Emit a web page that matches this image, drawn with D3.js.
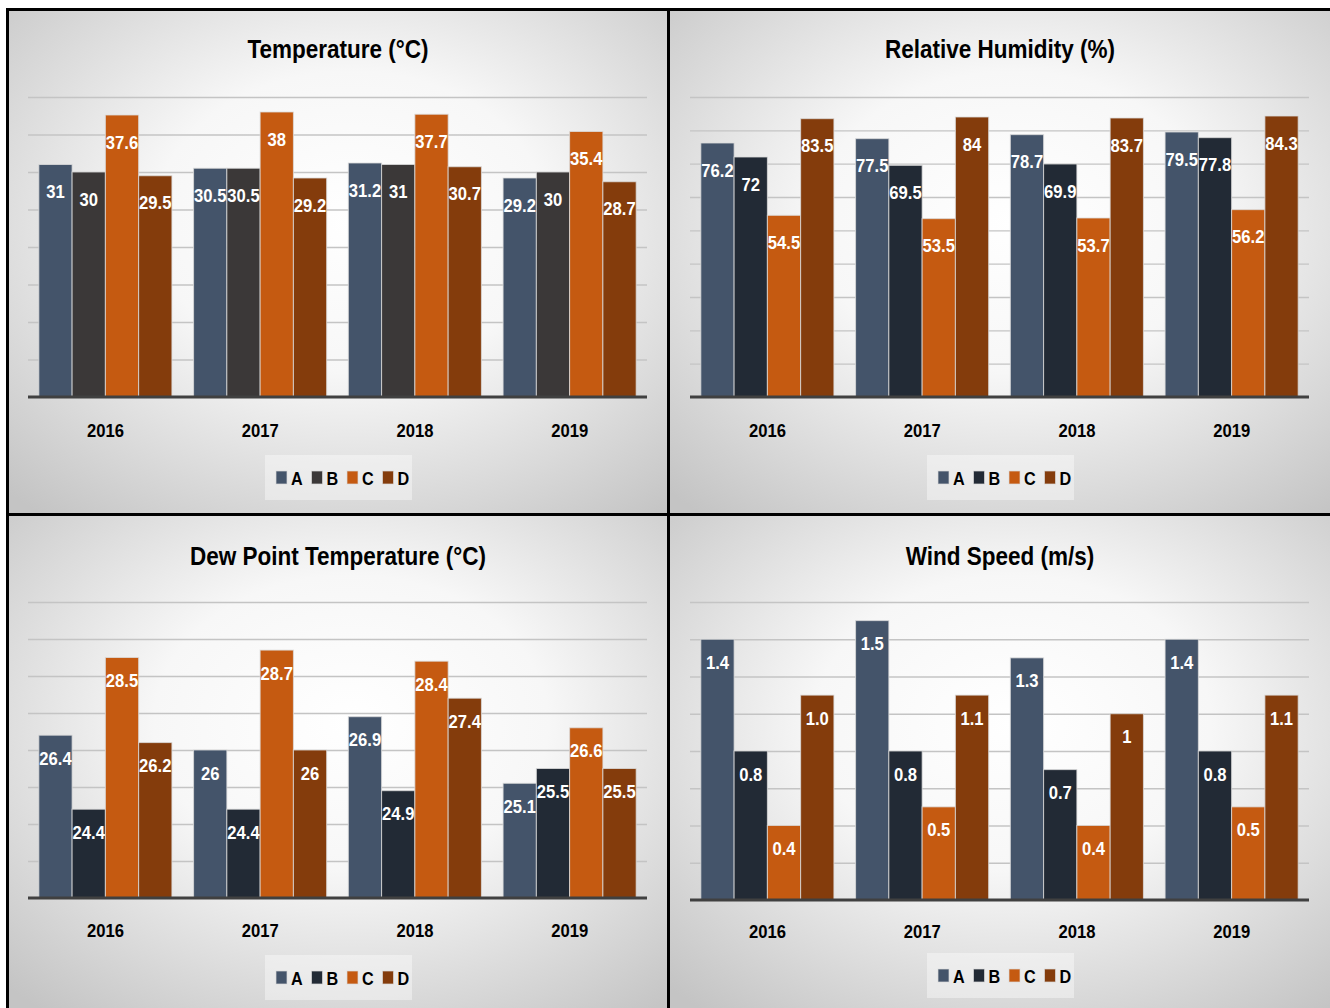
<!DOCTYPE html>
<html>
<head>
<meta charset="utf-8">
<script src="https://cdn.jsdelivr.net/npm/d3@7/dist/d3.min.js"></script>
<style>
  html, body { margin: 0; padding: 0; background: #ffffff; }
  svg { display: block; }
  text { font-family: "Liberation Sans", Arial, sans-serif; font-weight: bold; }
</style>
</head>
<body>
<svg id="chart" width="1330" height="1008"></svg>
<script>
// ---------- data ----------
const years = ["2016", "2017", "2018", "2019"];
const seriesNames = ["A", "B", "C", "D"];

const tempA = [31, 30.5, 31.2, 29.2];
const tempB = [30, 30.5, 31, 30];
const tempC = [37.6, 38, 37.7, 35.4];
const tempD = [29.5, 29.2, 30.7, 28.7];

const humA = [76.2, 77.5, 78.7, 79.5];
const humB = [72, 69.5, 69.9, 77.8];
const humC = [54.5, 53.5, 53.7, 56.2];
const humD = [83.5, 84, 83.7, 84.3];

const dewA = [26.4, 26, 26.9, 25.1];
const dewB = [24.4, 24.4, 24.9, 25.5];
const dewC = [28.5, 28.7, 28.4, 26.6];
const dewD = [26.2, 26, 27.4, 25.5];

const windA = [1.4, 1.5, 1.3, 1.4];
const windB = [0.8, 0.8, 0.7, 0.8];
const windC = [0.4, 0.5, 0.4, 0.5];
const windD = [1.1, 1.1, 1.0, 1.1];
const windLabelsA = ["1.4", "1.5", "1.3", "1.4"];
const windLabelsB = ["0.8", "0.8", "0.7", "0.8"];
const windLabelsC = ["0.4", "0.5", "0.4", "0.5"];
const windLabelsD = ["1.0", "1.1", "1", "1.1"];

const tempGrid = [0, 5, 10, 15, 20, 25, 30, 35, 40];
const humGrid = [0, 10, 20, 30, 40, 50, 60, 70, 80, 90];
const dewGrid = [22, 23, 24, 25, 26, 27, 28, 29, 30];
const windGrid = [0, 0.2, 0.4, 0.6, 0.8, 1.0, 1.2, 1.4, 1.6];

// ---------- styles ----------
const colA = "#44546a", colBgray = "#3b3838", colBnavy = "#222a35", colC = "#c55a11", colD = "#843c0c";
const SX = 0.9; // horizontal squeeze to mimic a condensed face

const svg = d3.select("#chart");
const defs = svg.append("defs");
const grad = defs.append("radialGradient").attr("id", "bg")
  .attr("cx", "52%").attr("cy", "42%").attr("r", "75%");
grad.append("stop").attr("offset", "0%").attr("stop-color", "#ffffff");
grad.append("stop").attr("offset", "40%").attr("stop-color", "#f7f7f7");
grad.append("stop").attr("offset", "100%").attr("stop-color", "#c4c4c4");

function ctext(parent, x, y, str, size, fill, anchor) {
  return parent.append("text")
    .attr("transform", `translate(${x},${y}) scale(${SX},1)`)
    .attr("text-anchor", anchor || "middle")
    .attr("font-size", size).attr("fill", fill).text(str);
}

// frame
svg.append("rect").attr("x", 6).attr("y", 8).attr("width", 1324).attr("height", 1000).attr("fill", "#000");

const panels = [
  { title: "Temperature (°C)", x: 9, y: 11, w: 658, h: 502,
    px0: 28, px1: 647, ptop: 97, pbase: 397, domain: [0, 40], grid: tempGrid,
    data: [tempA, tempB, tempC, tempD], labels: null, colors: [colA, colBgray, colC, colD], lblOff: 27,
    titleY: 58, catY: 437, legY: 478 },
  { title: "Relative Humidity (%)", x: 670, y: 11, w: 660, h: 502,
    px0: 690, px1: 1309, ptop: 97, pbase: 397, domain: [0, 90], grid: humGrid,
    data: [humA, humB, humC, humD], labels: null, colors: [colA, colBnavy, colC, colD], lblOff: 27,
    titleY: 58, catY: 437, legY: 478 },
  { title: "Dew Point Temperature (°C)", x: 9, y: 516, w: 658, h: 492,
    px0: 28, px1: 647, ptop: 602, pbase: 898, domain: [22, 30], grid: dewGrid,
    data: [dewA, dewB, dewC, dewD], labels: null, colors: [colA, colBnavy, colC, colD], lblOff: 23,
    titleY: 565, catY: 937, legY: 978 },
  { title: "Wind Speed (m/s)", x: 670, y: 516, w: 660, h: 492,
    px0: 690, px1: 1309, ptop: 602, pbase: 900, domain: [0, 1.6], grid: windGrid,
    data: [windA, windB, windC, windD], labels: [windLabelsA, windLabelsB, windLabelsC, windLabelsD],
    colors: [colA, colBnavy, colC, colD], lblOff: 23,
    titleY: 565, catY: 938, legY: 976 }
];

panels.forEach(p => {
  const g = svg.append("g");
  g.append("rect").attr("x", p.x).attr("y", p.y).attr("width", p.w).attr("height", p.h).attr("fill", "url(#bg)");

  const cx = p.x + p.w / 2;
  ctext(g, cx, p.titleY, p.title, 25, "#000");

  const y = d3.scaleLinear().domain(p.domain).range([p.pbase, p.ptop]);
  const x0 = d3.scaleBand().domain(years).range([p.px0, p.px1]).paddingInner(0.14).paddingOuter(0.07);
  const x1 = d3.scaleBand().domain(seriesNames).range([0, x0.bandwidth()]).padding(0);

  // gridlines
  const gridAxis = d3.axisLeft(y).tickValues(p.grid.slice(1)).tickSize(-(p.px1 - p.px0)).tickFormat("");
  const gg = g.append("g").attr("transform", `translate(${p.px0},0)`).call(gridAxis);
  gg.select(".domain").remove();
  gg.selectAll(".tick line").attr("stroke", "#c4c4c4").attr("stroke-width", 1.3);

  // bars
  seriesNames.forEach((s, si) => {
    const vals = p.data[si];
    const sg = g.append("g");
    sg.selectAll("rect").data(years).join("rect")
      .attr("x", d => x0(d) + x1(s))
      .attr("y", (d, i) => y(vals[i]))
      .attr("width", x1.bandwidth())
      .attr("height", (d, i) => p.pbase - y(vals[i]))
      .attr("fill", p.colors[si])
      .attr("stroke", "#dcdcdc").attr("stroke-opacity", 0.8).attr("stroke-width", 1);
    years.forEach((yr, i) => {
      ctext(sg, x0(yr) + x1(s) + x1.bandwidth() / 2, y(vals[i]) + p.lblOff + 6.5,
        p.labels ? p.labels[si][i] : String(vals[i]), 18.5, "#fff");
    });
  });

  // baseline
  g.append("line").attr("x1", p.px0).attr("x2", p.px1).attr("y1", p.pbase).attr("y2", p.pbase)
    .attr("stroke", "#404040").attr("stroke-width", 3);

  // category axis
  const xAxis = d3.axisBottom(x0).tickSize(0).tickPadding(0);
  const xg = g.append("g").attr("transform", `translate(0,${p.catY})`).call(xAxis);
  xg.select(".domain").remove();
  xg.selectAll("text").attr("dy", 0).attr("y", 0).attr("font-size", 18.5).attr("fill", "#000")
    .attr("font-family", null).attr("transform", `scale(${SX},1)`)
    .attr("x", 0);

  // legend
  const lg = g.append("g");
  lg.append("rect").attr("x", cx - 73).attr("y", p.legY - 23).attr("width", 147).attr("height", 45)
    .attr("fill", "#ffffff").attr("fill-opacity", 0.4);
  seriesNames.forEach((s, si) => {
    const lx = cx - 62 + si * 35.5;
    lg.append("rect").attr("x", lx).attr("y", p.legY - 7).attr("width", 11).attr("height", 13)
      .attr("fill", p.colors[si]).attr("stroke", "#dcdcdc").attr("stroke-opacity", 0.7).attr("stroke-width", 1);
    ctext(lg, lx + 15, p.legY + 7, s, 18, "#000", "start");
  });
});
</script>
</body>
</html>
